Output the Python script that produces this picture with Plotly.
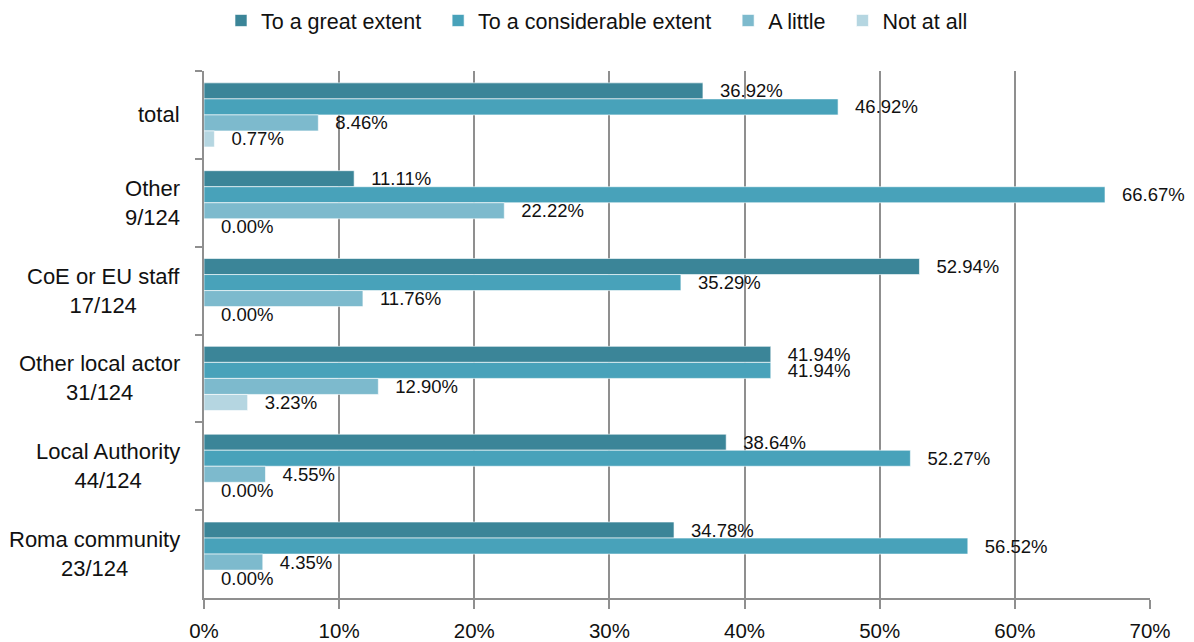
import plotly.graph_objects as go

categories = ["total", "Other<br>9/124", "CoE or EU staff<br>17/124", "Other local actor<br>31/124",
              "Local Authority<br>44/124", "Roma community<br>23/124"]
series_names = ["To a great extent", "To a considerable extent", "A little", "Not at all"]
great = [36.92, 11.11, 52.94, 41.94, 38.64, 34.78]
considerable = [46.92, 66.67, 35.29, 41.94, 52.27, 56.52]
little = [8.46, 22.22, 11.76, 12.90, 4.55, 4.35]
not_at_all = [0.77, 0.00, 0.00, 3.23, 0.00, 0.00]
x_ticks = [0, 10, 20, 30, 40, 50, 60, 70]

colors = ["#3b8598", "#48a2ba", "#7dbacd", "#b5d6e1"]
FONT = "Liberation Sans"
GRID = "#8f8f8f"

fig = go.Figure()
for i, (name, vals, col) in enumerate(zip(series_names, [great, considerable, little, not_at_all], colors)):
    legend_name = name + ("\u00a0\u00a0" if i < len(series_names) - 1 else "")
    fig.add_trace(go.Bar(
        y=categories, x=vals, name=legend_name, orientation="h",
        marker=dict(color=col, line=dict(color="rgba(255,255,255,0.6)", width=1)),
        text=[f"\u00a0\u00a0\u2009{v:.2f}%" for v in vals],
        textposition="outside", constraintext="none", cliponaxis=False,
        textfont=dict(family=FONT, size=18.5, color="#111"),
    ))

for c in categories:
    fig.add_annotation(x=0, xref="paper", y=c, yref="y", text=c, showarrow=False,
                       xanchor="right", align="center", xshift=-22,
                       font=dict(family=FONT, size=22, color="#111"))

fig.update_layout(
    width=1194, height=642,
    margin=dict(l=204, r=44, t=71, b=44),
    barmode="group", bargap=0.27, bargroupgap=0,
    plot_bgcolor="white", paper_bgcolor="white",
    font=dict(family=FONT, color="#111"),
    legend=dict(orientation="h", xref="container", yref="container", x=0.5, y=1.0,
                xanchor="center", yanchor="top", font=dict(family=FONT, size=21.5),
                itemwidth=30, traceorder="normal"),
    showlegend=True,
)
fig.update_xaxes(range=[0, 70], tickvals=x_ticks, ticktext=[f"{t}%" for t in x_ticks],
                 showgrid=True, gridcolor=GRID, gridwidth=2,
                 showline=True, linecolor=GRID, linewidth=2, automargin=False,
                 ticks="outside", ticklen=9, tickwidth=2, tickcolor=GRID, ticklabelstandoff=4,
                 tickfont=dict(family=FONT, size=20.5, color="#111"), zeroline=False)
fig.update_yaxes(autorange="reversed", showticklabels=False, showgrid=False, automargin=False,
                 showline=True, linecolor=GRID, linewidth=2,
                 ticks="outside", tickson="boundaries", ticklen=7, tickwidth=2, tickcolor=GRID)

fig.write_html("out.html")
